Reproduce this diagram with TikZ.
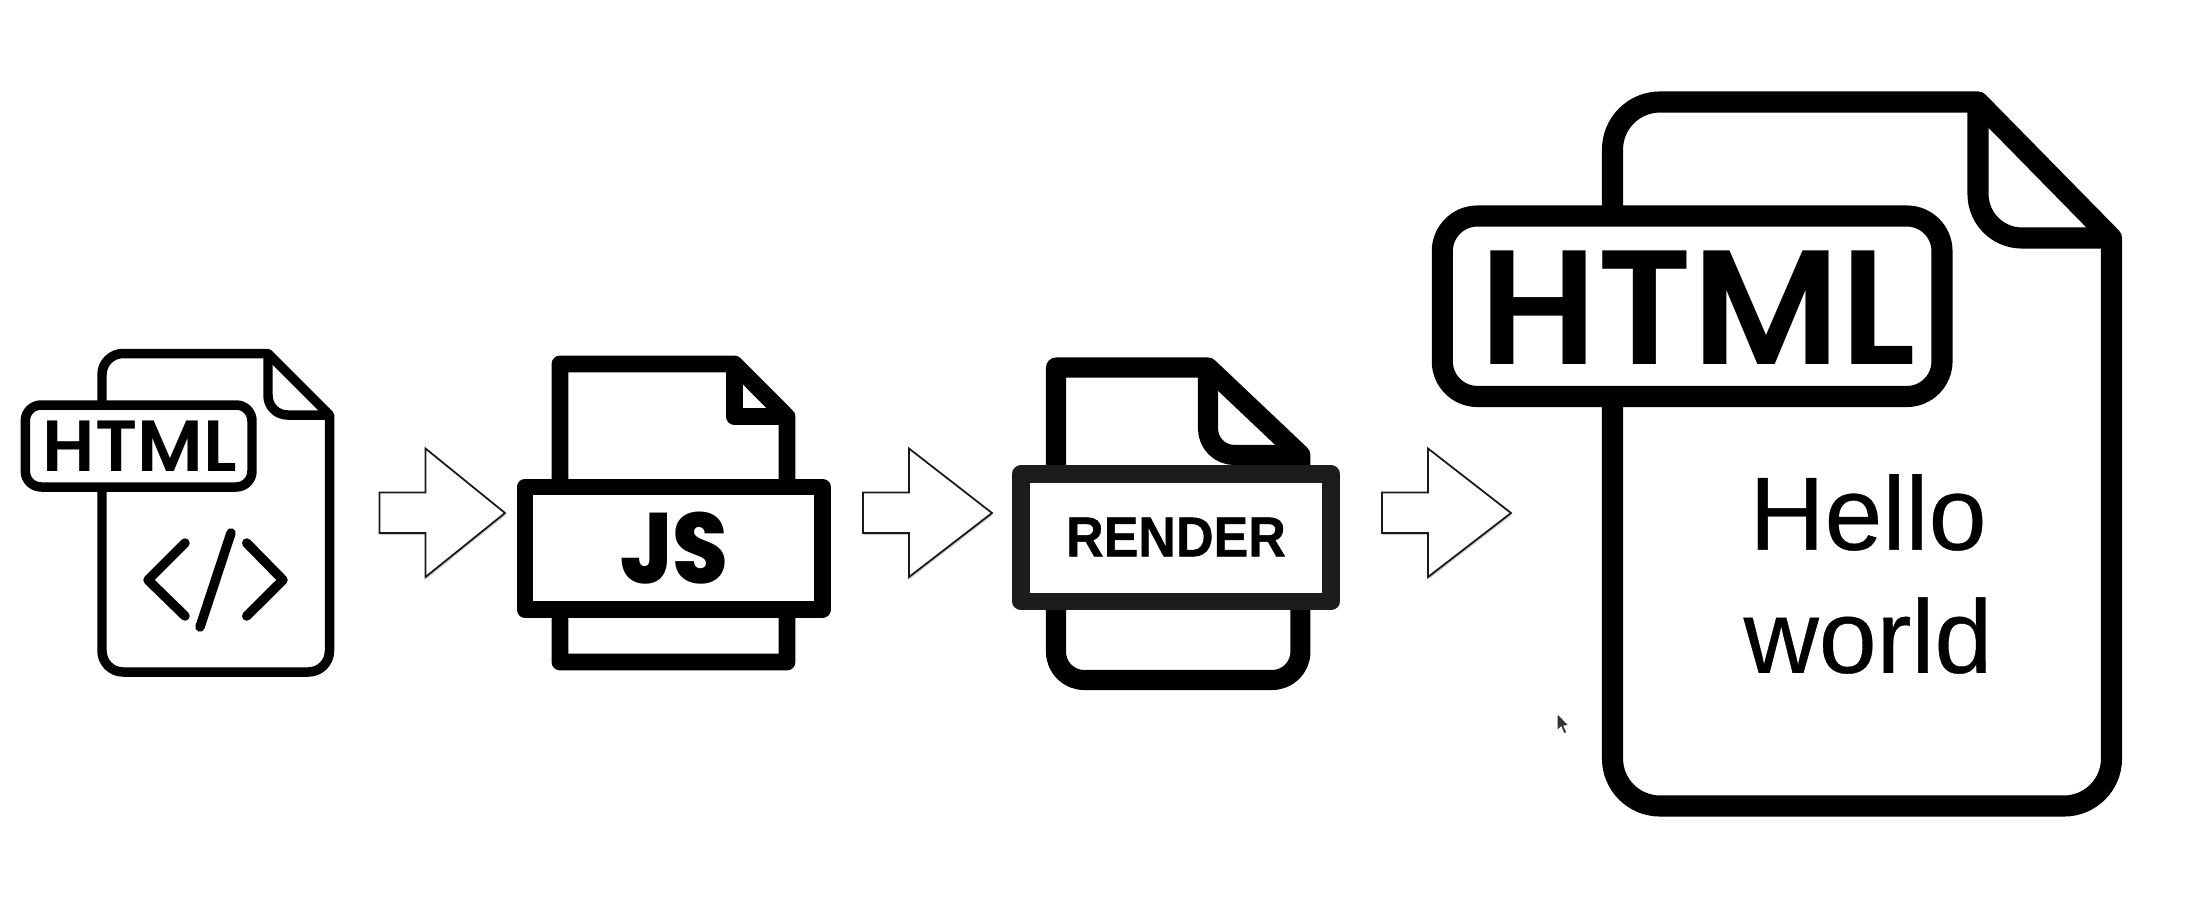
\documentclass[tikz,border=0pt]{standalone}
\usepackage{fontspec}
\usepackage{tikz}
\usetikzlibrary{shadows}
\setmainfont{Liberation Sans}
\newfontfamily\iconfont{Poppins SemiBold}
\newfontfamily\jsfont{Poppins ExtraBold}
\newfontfamily\renderfont[FakeBold=0.7]{Liberation Sans Bold}
\newfontfamily\hellofont[FakeBold=0.35]{Liberation Sans}
\definecolor{tagBlack}{gray}{0.11}

\tikzset{
  flowarrow/.style={draw=black!90, line width=0.5pt, fill=white, line join=miter,
    drop shadow={shadow xshift=0.2pt, shadow yshift=-0.6pt, opacity=0.4}},
  filethin/.style={draw=black, fill=white, line width=2.7pt, line join=round},
  filejs/.style={draw=black, fill=white, line width=4.8pt, line join=round},
  filerender/.style={draw=black, fill=white, line width=5.7pt, line join=round},
  filebig/.style={draw=black, fill=white, line width=6pt, line join=round},
  codemark/.style={draw=black, line width=2.7pt, line cap=round, line join=round},
  icontext/.style={inner sep=0pt, font=\iconfont},
}

\begin{document}
\begin{tikzpicture}[x=0.01cm, y=-0.01cm]
    \useasboundingbox (0,0) rectangle (2208,918);

    % HTML file with code mark
    \draw[filethin] (268,353.5) -- (329.5,415) [rounded corners=6pt] -- (329.5,672) -- (102,672) -- (102,353.5) [sharp corners] -- cycle;
    \draw[filethin, fill=none, rounded corners=5.5pt] (268,353.5) -- (268,415) -- (329.5,415);
    \draw[filethin, rounded corners=4.5pt] (25.3,405) rectangle (252,487);
    \node[icontext] (htmlA) at (140,446.5) {\fontsize{20.6pt}{24pt}\selectfont\scalebox{1.01}[1]{HTML}};
    \draw[codemark] (185,543) -- (148,580) -- (185,616);
    \draw[codemark] (246.7,543) -- (283,580) -- (246.7,616);
    \draw[codemark] (231,533) -- (200,627);

    % JS file
    \draw[filejs] (734.5,364) -- (787,416.7) -- (787,662) -- (560,662) -- (560,364) -- cycle;
    \draw[filejs, fill=none] (734.5,364) -- (734.5,416.7) -- (787,416.7);
    \draw[filejs] (525,487) rectangle (822.3,609.5);
    \node[inner sep=0pt, font=\jsfont] (jsText) at (674.5,548) {\fontsize{28.4pt}{32pt}\selectfont\scalebox{0.9}[1]{JS}};

    % RENDER file
    \draw[filerender] (1208,367.5) -- (1300.4,455) [rounded corners=8pt] -- (1300.4,680) -- (1056,680) [sharp corners] -- (1056,367.5) -- cycle;
    \draw[filerender, fill=none, rounded corners=7.5pt] (1208,367.5) -- (1208,455) -- (1300.4,455);
    \draw[filerender, draw=tagBlack, line width=5.1pt, drop shadow={shadow xshift=0pt, shadow yshift=-0.8pt, opacity=0.25}] (1021.4,473.8) rectangle (1330.7,601.5);
    \node[font=\renderfont, inner sep=0pt] (renderText) at (1176,537) {\fontsize{16pt}{18pt}\selectfont\scalebox{0.925}[1]{RENDER}};

    % resulting HTML file
    \draw[filebig] (1978,102) -- (2111.5,238) [rounded corners=13.5pt] -- (2111.5,806) -- (1612.5,806) -- (1612.5,102) [sharp corners] -- cycle;
    \draw[filebig, fill=none, rounded corners=12.5pt] (1978,102) -- (1978,238) -- (2111.5,238);
    \draw[filebig, rounded corners=10pt] (1442.3,216) rectangle (1942,396.5);
    \node[icontext] (htmlB) at (1698,308) {\fontsize{46.3pt}{50pt}\selectfont\scalebox{1.01}[1]{HTML}};
    \node[align=center, inner sep=0pt, font=\hellofont\fontsize{29.6pt}{35pt}\selectfont] (helloText) at (1868,574) {Hello\\world};

    % arrows between the files
    \foreach \ax/\tipw in {379.5/79.5, 863/83, 1382/83} {
        \draw[flowarrow] (\ax,492.5) -- ++(46,0) -- ++(0,-44) -- ++(\tipw,64.5) -- ++(-\tipw,64) -- ++(0,-44) -- ++(-46,0) -- cycle;
    }

    % mouse pointer
    \fill[black!80, draw=white, line width=0.3pt] (1557,713) -- (1557,731) -- (1561,727) -- (1564,734) -- (1567,732.5) -- (1564,726) -- (1569,725.5) -- cycle;
\end{tikzpicture}
\end{document}
